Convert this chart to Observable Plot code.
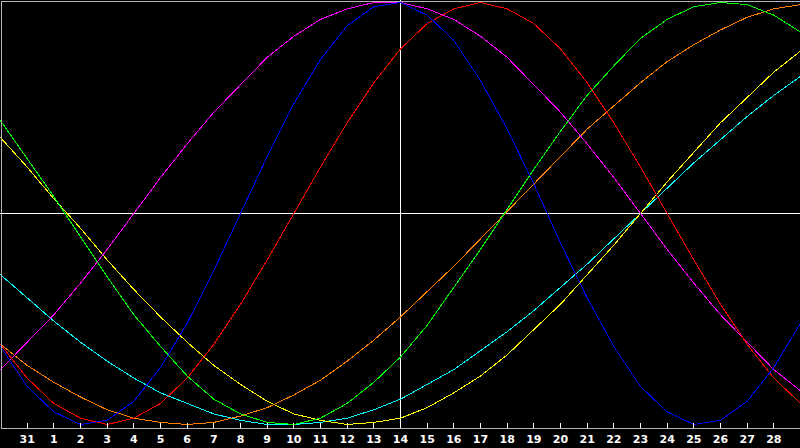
<!DOCTYPE html>
<html>
<head>
<meta charset="utf-8">
<script src="https://cdn.jsdelivr.net/npm/d3@7"></script>
<script src="https://cdn.jsdelivr.net/npm/@observablehq/plot@0.6"></script>
<style>
html, body { margin: 0; padding: 0; background: #000; }
#chart svg { display: block; }
</style>
</head>
<body>
<div id="chart"></div>
<script>
// day index: 0 = the 31st of the previous month, 1..28 = this month
const days = [-1,0,1,2,3,4,5,6,7,8,9,10,11,12,13,14,15,16,17,18,19,20,21,22,23,24,25,26,27,28,29];
const tickDays = [0,1,2,3,4,5,6,7,8,9,10,11,12,13,14,15,16,17,18,19,20,21,22,23,24,25,26,27,28];
const tickLabels = ["31","1","2","3","4","5","6","7","8","9","10","11","12","13","14","15","16","17","18","19","20","21","22","23","24","25","26","27","28"];
const today = 14;

// values in percent (-100 .. 100), one per day
const physical     = [-63,-82,-94,-100,-98,-89,-73,-52,-27,0,27,52,73,89,98,100,94,82,63,40,14,-14,-40,-63,-82,-94,-100,-98,-89,-73,-52];
const emotional    = [-62,-78,-90,-97,-100,-97,-90,-78,-62,-43,-22,0,22,43,62,78,90,97,100,97,90,78,62,43,22,0,-22,-43,-62,-78,-90];
const intellectual = [44,26,8,-11,-30,-48,-63,-77,-88,-95,-99,-100,-97,-90,-80,-68,-53,-35,-17,2,21,39,56,70,83,92,98,100,99,94,86];
const intuitive    = [-74,-61,-48,-33,-17,0,17,33,48,61,74,84,92,97,100,100,97,92,84,74,61,48,33,17,0,-17,-33,-48,-61,-74,-84];
const aesthetic    = [36,22,7,-7,-22,-36,-49,-61,-72,-81,-89,-95,-98,-100,-99,-97,-92,-85,-77,-67,-55,-43,-29,-15,0,15,29,43,55,67,77];
const awareness    = [-62,-72,-80,-87,-93,-97,-99,-100,-99,-96,-92,-86,-79,-70,-60,-49,-37,-25,-12,1,14,27,40,51,62,72,80,87,93,97,99];
const spiritual    = [-29,-40,-51,-61,-70,-78,-85,-90,-95,-98,-100,-100,-99,-97,-93,-88,-81,-74,-65,-56,-46,-35,-24,-12,0,12,24,35,46,56,65];

const seriesNames  = ["Spiritual","Aesthetic","Awareness","Intellectual","Intuitive","Emotional","Physical"];
const seriesValues = [spiritual, aesthetic, awareness, intellectual, intuitive, emotional, physical];
const seriesColors = ["#00ffff","#ffff00","#ff8000","#00ff00","#ff00ff","#ff0000","#0000ff"];

const rows = seriesNames.flatMap((name, s) =>
  seriesValues[s].map((v, i) => ({day: days[i], value: v, name}))
);

const chart = Plot.plot({
  width: 800,
  height: 448,
  marginTop: 0,
  marginRight: 0,
  marginBottom: 20,
  marginLeft: 0,
  style: {background: "#000", color: "#fff", overflow: "visible"},
  x: {domain: [-1, 29], axis: null, label: null},
  y: {domain: [-100, 100], range: [424, 2], axis: null, label: null},
  color: {domain: seriesNames, range: seriesColors},
  marks: [
    Plot.ruleY([0], {stroke: "#fff", shapeRendering: "crispEdges"}),
    Plot.ruleX([today], {stroke: "#fff", shapeRendering: "crispEdges"}),
    Plot.line(rows, {x: "day", y: "value", z: "name", stroke: "name", strokeWidth: 1, shapeRendering: "crispEdges"}),
    Plot.frame({stroke: "#b4b4b4", inset: 0.5, shapeRendering: "crispEdges"}),
    Plot.tickX(tickDays, {x: d => d, stroke: "#fff", insetTop: 423, shapeRendering: "crispEdges"}),
    Plot.axisX(tickDays, {
      anchor: "bottom",
      label: null,
      tickSize: 0,
      tickPadding: 7,
      tickFormat: d => tickLabels[tickDays.indexOf(d)],
      fill: "#fff",
      fontSize: 11,
      fontWeight: "bold",
      fontFamily: "DejaVu Sans"
    })
  ]
});

document.getElementById("chart").appendChild(chart);
</script>
</body>
</html>
